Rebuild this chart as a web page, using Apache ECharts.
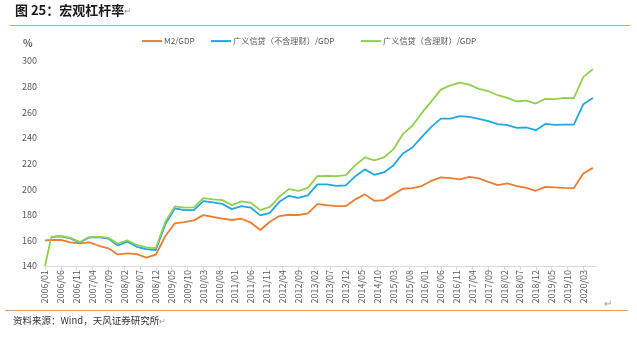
<!DOCTYPE html>
<html>
<head>
<meta charset="utf-8">
<script src="https://cdn.jsdelivr.net/npm/echarts@6/dist/echarts.min.js"></script>
<style>
html,body{margin:0;padding:0;background:#fff;}
#c{width:637px;height:339px;}
</style>
</head>
<body>
<div id="c"></div>
<script>
// Data months (first point 2006/01, then quarter ends)
const dataMonths = ["2006/01","2006/03","2006/06","2006/09","2006/12","2007/03","2007/06","2007/09","2007/12",
"2008/03","2008/06","2008/09","2008/12","2009/03","2009/06","2009/09","2009/12","2010/03","2010/06","2010/09","2010/12",
"2011/03","2011/06","2011/09","2011/12","2012/03","2012/06","2012/09","2012/12","2013/03","2013/06","2013/09","2013/12",
"2014/03","2014/06","2014/09","2014/12","2015/03","2015/06","2015/09","2015/12","2016/03","2016/06","2016/09","2016/12",
"2017/03","2017/06","2017/09","2017/12","2018/03","2018/06","2018/09","2018/12","2019/03","2019/06","2019/09","2019/12",
"2020/03","2020/06"];
const m2gdp = [160,160.3,160.3,158.5,157.7,158.5,155.8,153.8,149,
149.9,149.3,146.5,148.8,163.4,173.3,174.3,175.6,179.7,178.4,177,175.9,
176.9,173.8,168.1,174.5,179,180,179.8,181.1,188.3,187.5,186.8,186.8,
192,195.9,190.9,191.4,195.9,200.3,200.8,202.4,206.5,209.1,208.6,207.6,
209.6,208.4,205.7,203.1,204.4,202.4,201,198.7,201.8,201.3,201,200.8,
212.2,216.6];
const creditExWmp = [null,162.5,163.2,161.6,158.3,162.2,162.6,161.4,156,
159,155,153.2,152.5,172.7,185,183.6,183.6,190.7,189.6,188.5,184.4,
186.8,185.5,179.5,181.5,190.1,194.8,193.2,195.1,203.7,203.7,202.6,202.9,
210.1,215.4,211.2,213,218.5,227.8,232.5,240.8,248.6,255,255.1,256.9,
256.4,254.8,253,250.7,249.9,247.8,248.1,246,250.9,250.1,250.4,250.4,
266.3,271.2];
const creditInclWmp = [140,162.8,163.6,162,158.7,162.6,163,162,157.4,
160,156.4,154.6,154,174.5,186.5,185.5,185.7,193,192,191.4,187.5,
190.4,189.4,183.6,186.2,194,200,198.7,201,210.1,210.4,210.1,210.9,
218.7,224.7,222.4,224.7,231,242.9,249.5,259.5,268.5,277.7,281,283.2,
281.6,278.2,276.4,273.3,271.2,268.4,269.1,266.8,270.4,270.2,271.2,271,
287.6,293.5];
const seriesNames = ["M2/GDP","广义信贷（不含理财）/GDP","广义信贷（含理财）/GDP"];
const yTicks = [140,160,180,200,220,240,260,280,300];

// Monthly category axis 2006/01 .. 2020/07
const categories = [];
for (let y = 2006; y <= 2020; y++) {
  for (let m = 1; m <= 12; m++) {
    if (y === 2020 && m > 7) break;
    categories.push(y + "/" + (m < 10 ? "0" + m : m));
  }
}
function toMonthly(vals) {
  const out = categories.map(() => null);
  dataMonths.forEach((d, i) => {
    const idx = categories.indexOf(d);
    if (idx >= 0 && vals[i] != null) out[idx] = vals[i];
  });
  return out;
}

const chart = echarts.init(document.getElementById('c'), null, {renderer: 'canvas'});
const font = '"Noto Sans CJK SC", "Noto Sans", sans-serif';
const colors = ['#ED7D31', '#1FA8E2', '#92D050'];
const legendLefts = [142, 211, 361];

chart.setOption({
  animation: false,
  color: colors,
  textStyle: {fontFamily: font},
  grid: {left: 45, right: 41, top: 61, bottom: 73, containLabel: false},
  legend: seriesNames.map((n, i) => ({
    top: 37, left: legendLefts[i],
    itemWidth: 20, itemHeight: 2,
    icon: 'rect',
    padding: 0,
    textStyle: {fontSize: 8.2, color: '#595959', fontFamily: font, padding: [0, 0, 0, -3]},
    data: [n]
  })),
  xAxis: {
    type: 'category',
    boundaryGap: false,
    data: categories,
    axisLine: {lineStyle: {color: '#d9d9d9', width: 1}},
    axisTick: {show: true, interval: 4, length: 4, lineStyle: {color: '#d9d9d9'}},
    axisLabel: {interval: 4, rotate: 90, fontSize: 9, color: '#595959', margin: 4, fontFamily: font},
    splitLine: {show: false}
  },
  yAxis: {
    type: 'value',
    min: yTicks[0], max: yTicks[yTicks.length - 1], interval: 20,
    axisLine: {show: false},
    axisTick: {show: false},
    splitLine: {show: false},
    axisLabel: {fontSize: 9, color: '#595959', margin: 8, fontFamily: font}
  },
  series: [
    {name: seriesNames[0], type: 'line', data: toMonthly(m2gdp), connectNulls: true, showSymbol: false, symbol: 'none', lineStyle: {width: 1.8}, z: 2},
    {name: seriesNames[1], type: 'line', data: toMonthly(creditExWmp), connectNulls: true, showSymbol: false, symbol: 'none', lineStyle: {width: 1.8}, z: 3},
    {name: seriesNames[2], type: 'line', data: toMonthly(creditInclWmp), connectNulls: true, showSymbol: false, symbol: 'none', lineStyle: {width: 1.8}, z: 4}
  ],
  graphic: [
    {type: 'text', left: 15, top: 4, style: {
      text: '{t|图 25：宏观杠杆率}{m|↵}',
      rich: {t: {fontSize: 13, fontWeight: 'bold', fill: '#1a1a1a', fontFamily: font},
             m: {fontSize: 9, fill: '#999', fontFamily: font}}}},
    {type: 'line', shape: {x1: 10, y1: 25.5, x2: 630, y2: 25.5}, style: {stroke: '#DFA066', lineWidth: 1}},
    {type: 'text', left: 23, top: 38, style: {text: '%', fontSize: 10, fontWeight: 'bold', fill: '#595959', fontFamily: font}},
    {type: 'text', left: 604, top: 298, style: {text: '↵', fontSize: 10, fill: '#999', fontFamily: font}},
    {type: 'line', shape: {x1: 5, y1: 310.5, x2: 628, y2: 310.5}, style: {stroke: '#DFA066', lineWidth: 1}},
    {type: 'text', left: 13, top: 316, style: {
      text: '{t|资料来源：Wind，天风证券研究所}{m|↵}',
      rich: {t: {fontSize: 9.5, fill: '#333', fontFamily: font},
             m: {fontSize: 8, fill: '#999', fontFamily: font}}}}
  ]
});
</script>
</body>
</html>
